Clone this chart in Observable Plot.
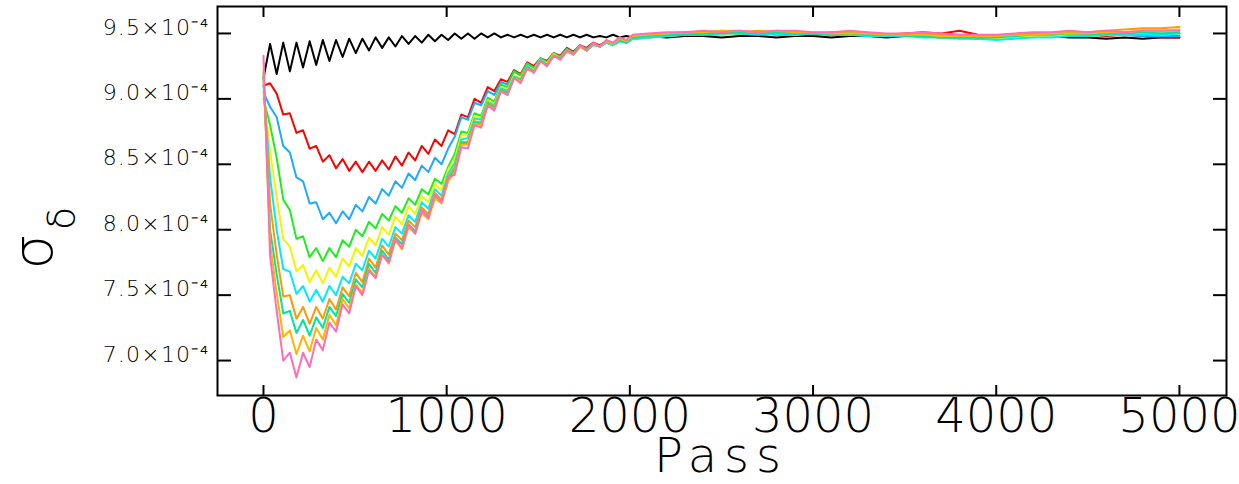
<!DOCTYPE html>
<html><head><meta charset="utf-8">
<script src="https://cdn.jsdelivr.net/npm/d3@7"></script>
<script src="https://cdn.jsdelivr.net/npm/@observablehq/plot@0.6"></script>
<style>body{margin:0;background:#fff}</style>
</head><body><div id="chart"></div>
<script>
// Values of sigma_delta in units of 1e-4
const passes = [0,36,72,108,144,180,216,252,288,324,360,396,432,468,504,540,576,612,648,684,720,756,792,828,864,900,936,972,1008,1044,1080,1116,1152,1188,1224,1260,1296,1332,1368,1404,1440,1476,1512,1548,1584,1620,1656,1692,1728,1764,1800,1836,1872,1908,1944,1980,2016,2100,2200,2300,2400,2500,2600,2700,2800,2900,3000,3100,3200,3300,3400,3500,3600,3700,3800,3900,4000,4100,4200,4300,4400,4500,4600,4700,4800,4900,5000];

const sBlack = [9.16,9.42,9.19,9.43,9.21,9.43,9.24,9.44,9.26,9.45,9.29,9.45,9.32,9.46,9.35,9.46,9.37,9.47,9.39,9.47,9.40,9.48,9.42,9.48,9.43,9.49,9.44,9.49,9.45,9.50,9.46,9.50,9.46,9.50,9.47,9.50,9.47,9.49,9.47,9.49,9.47,9.49,9.47,9.49,9.47,9.49,9.47,9.49,9.47,9.49,9.47,9.48,9.47,9.49,9.47,9.48,9.47,
  9.48,9.47,9.48,9.48,9.47,9.48,9.48,9.47,9.48,9.48,9.47,9.48,9.48,9.47,9.48,9.48,9.47,9.48,9.48,9.47,9.48,9.48,9.48,9.47,9.47,9.46,9.47,9.46,9.47,9.47];
const sRed = [9.10,9.12,9.04,8.88,8.89,8.74,8.76,8.62,8.64,8.52,8.57,8.47,8.54,8.45,8.52,8.44,8.52,8.45,8.53,8.46,8.56,8.49,8.59,8.53,8.64,8.58,8.69,8.64,8.76,8.73,8.88,8.86,9.00,8.97,9.09,9.06,9.15,9.13,9.22,9.19,9.28,9.25,9.31,9.29,9.35,9.33,9.39,9.36,9.41,9.39,9.43,9.41,9.44,9.42,9.45,9.43,9.46,
  9.47,9.48,9.49,9.49,9.50,9.50,9.49,9.50,9.50,9.49,9.50,9.49,9.49,9.49,9.50,9.51,9.50,9.52,9.49,9.48,9.49,9.49,9.48,9.49,9.49,9.48,9.49,9.48,9.47,9.47];
const sBlue = [9.05,8.94,8.86,8.64,8.59,8.40,8.37,8.20,8.21,8.08,8.13,8.05,8.14,8.08,8.19,8.14,8.25,8.20,8.31,8.26,8.37,8.32,8.43,8.38,8.49,8.44,8.55,8.50,8.62,8.71,8.86,8.84,8.97,8.95,9.06,9.03,9.13,9.11,9.21,9.18,9.27,9.24,9.30,9.28,9.34,9.32,9.38,9.35,9.40,9.38,9.42,9.40,9.43,9.41,9.44,9.43,9.46,
  9.47,9.48,9.49,9.49,9.49,9.50,9.50,9.49,9.49,9.50,9.49,9.49,9.48,9.48,9.49,9.48,9.48,9.47,9.46,9.46,9.47,9.48,9.48,9.49,9.49,9.49,9.49,9.48,9.48,9.48];
const sGreen = [9.00,8.80,8.55,8.23,8.15,7.93,7.95,7.79,7.86,7.76,7.86,7.79,7.92,7.87,8.00,7.95,8.06,8.01,8.12,8.07,8.18,8.13,8.24,8.19,8.31,8.27,8.39,8.35,8.48,8.58,8.75,8.74,8.89,8.87,9.01,8.98,9.11,9.09,9.21,9.18,9.27,9.23,9.31,9.28,9.35,9.32,9.38,9.35,9.41,9.38,9.42,9.40,9.44,9.42,9.45,9.43,9.46,
  9.48,9.49,9.49,9.50,9.50,9.51,9.50,9.51,9.50,9.50,9.51,9.50,9.49,9.49,9.49,9.48,9.48,9.48,9.47,9.47,9.48,9.48,9.49,9.49,9.50,9.49,9.50,9.50,9.50,9.50];
const sYellow = [9.05,8.60,8.25,7.93,7.87,7.68,7.73,7.60,7.69,7.59,7.71,7.64,7.78,7.72,7.86,7.80,7.94,7.88,8.02,7.96,8.10,8.04,8.18,8.12,8.26,8.21,8.35,8.30,8.46,8.54,8.72,8.72,8.87,8.85,8.99,8.96,9.09,9.07,9.18,9.16,9.25,9.22,9.30,9.27,9.34,9.31,9.37,9.34,9.40,9.37,9.42,9.40,9.43,9.41,9.44,9.43,9.46,
  9.47,9.48,9.49,9.50,9.49,9.50,9.51,9.50,9.49,9.50,9.50,9.49,9.49,9.48,9.49,9.48,9.47,9.48,9.47,9.46,9.47,9.48,9.48,9.49,9.48,9.49,9.49,9.50,9.49,9.50];
const sCyan = [9.10,8.40,8.00,7.70,7.68,7.51,7.57,7.45,7.54,7.45,7.57,7.50,7.64,7.59,7.74,7.69,7.84,7.78,7.93,7.87,8.02,7.97,8.11,8.06,8.21,8.16,8.31,8.26,8.43,8.51,8.69,8.70,8.85,8.84,8.98,8.95,9.08,9.06,9.17,9.15,9.25,9.21,9.30,9.26,9.33,9.31,9.37,9.34,9.40,9.37,9.41,9.40,9.43,9.41,9.44,9.43,9.46,
  9.47,9.48,9.49,9.49,9.50,9.50,9.49,9.50,9.49,9.50,9.49,9.49,9.48,9.48,9.48,9.47,9.47,9.46,9.46,9.45,9.46,9.47,9.47,9.48,9.48,9.49,9.49,9.49,9.49,9.50];
const sOrange = [9.15,8.20,7.81,7.49,7.50,7.32,7.41,7.28,7.41,7.32,7.47,7.39,7.56,7.49,7.67,7.60,7.78,7.71,7.88,7.81,7.97,7.92,8.07,8.02,8.17,8.12,8.28,8.23,8.40,8.48,8.67,8.67,8.83,8.82,8.97,8.94,9.07,9.05,9.16,9.14,9.24,9.21,9.29,9.26,9.33,9.31,9.37,9.34,9.40,9.37,9.42,9.40,9.44,9.42,9.46,9.44,9.48,
  9.49,9.50,9.51,9.51,9.52,9.51,9.52,9.51,9.51,9.50,9.50,9.51,9.50,9.49,9.50,9.49,9.49,9.49,9.48,9.48,9.49,9.50,9.50,9.51,9.51,9.52,9.53,9.54,9.54,9.55];
const sTeal = [9.20,8.00,7.66,7.36,7.38,7.21,7.31,7.19,7.33,7.25,7.41,7.34,7.51,7.44,7.62,7.56,7.74,7.67,7.84,7.77,7.94,7.89,8.04,7.99,8.15,8.10,8.26,8.21,8.38,8.46,8.66,8.66,8.82,8.81,8.96,8.93,9.07,9.04,9.16,9.14,9.24,9.21,9.29,9.26,9.33,9.31,9.37,9.34,9.40,9.37,9.42,9.40,9.44,9.42,9.45,9.43,9.47,
  9.48,9.49,9.49,9.50,9.50,9.51,9.50,9.51,9.50,9.50,9.49,9.50,9.49,9.49,9.48,9.48,9.47,9.47,9.47,9.47,9.48,9.49,9.49,9.50,9.49,9.50,9.50,9.51,9.50,9.51];
const sGold = [9.22,7.90,7.52,7.18,7.23,7.05,7.19,7.07,7.25,7.16,7.35,7.27,7.47,7.40,7.58,7.52,7.70,7.64,7.81,7.74,7.92,7.85,8.02,7.97,8.13,8.08,8.24,8.20,8.37,8.44,8.65,8.65,8.81,8.80,8.95,8.92,9.06,9.03,9.16,9.13,9.23,9.20,9.29,9.25,9.33,9.30,9.36,9.34,9.40,9.37,9.42,9.40,9.44,9.42,9.46,9.44,9.48,
  9.49,9.50,9.51,9.51,9.52,9.52,9.51,9.52,9.51,9.51,9.50,9.50,9.50,9.49,9.49,9.49,9.48,9.48,9.48,9.48,9.49,9.49,9.50,9.50,9.50,9.51,9.51,9.52,9.52,9.53];
const sPink = [9.33,7.80,7.38,7.00,7.06,6.87,7.06,6.95,7.16,7.08,7.29,7.22,7.43,7.36,7.57,7.50,7.69,7.63,7.81,7.75,7.93,7.86,8.04,7.97,8.15,8.09,8.27,8.21,8.40,8.42,8.63,8.62,8.80,8.78,8.95,8.91,9.06,9.03,9.16,9.12,9.24,9.20,9.29,9.25,9.33,9.30,9.37,9.34,9.41,9.37,9.43,9.40,9.45,9.43,9.47,9.45,9.49,
  9.50,9.51,9.51,9.52,9.51,9.52,9.51,9.52,9.52,9.51,9.51,9.52,9.51,9.50,9.50,9.51,9.50,9.49,9.49,9.49,9.50,9.51,9.51,9.52,9.51,9.52,9.51,9.52,9.52,9.52];

const seriesNames = ["run 1","run 2","run 3","run 4","run 5","run 6","run 7","run 8","run 9","run 10"];
const seriesValues = [sBlack,sRed,sBlue,sGreen,sYellow,sCyan,sOrange,sTeal,sGold,sPink];
const seriesColors = ["#000000","#ff0000","#1eaaff","#1eee1e","#f4f400","#00eaff","#ff9900","#00e69a","#ffb400","#ff6eb4"];

const yTicks = [7.0,7.5,8.0,8.5,9.0,9.5];
const yTickLabels = ["7.0×10⁻⁴","7.5×10⁻⁴","8.0×10⁻⁴","8.5×10⁻⁴","9.0×10⁻⁴","9.5×10⁻⁴"];
const xTicks = [0,1000,2000,3000,4000,5000];
const xTickLabels = ["0","1000","2000","3000","4000","5000"];

const rows = [];
seriesNames.forEach((name, si) => {
  seriesValues[si].forEach((v, i) => rows.push({series: name, pass: passes[i], value: v}));
});

const font = "DejaVu Sans, sans-serif";
const plot = Plot.plot({
  width: 1239, height: 484,
  marginLeft: 217, marginRight: 13, marginTop: 6, marginBottom: 89,
  style: {background: "white", fontFamily: font, color: "black"},
  x: {domain: [-251, 5257]},
  y: {domain: [6.733, 9.706]},
  color: {type: "ordinal", domain: seriesNames, range: seriesColors},
  marks: [
    Plot.line(rows, {x: "pass", y: "value", z: "series", stroke: "series", strokeWidth: 2}),
    Plot.frame({stroke: "black", strokeWidth: 2}),
    Plot.axisY(yTicks, {anchor: "left", tickSize: -14, strokeWidth: 2, stroke: "black", text: null, label: null}),
    Plot.axisY(yTicks, {anchor: "right", tickSize: -14, strokeWidth: 2, stroke: "black", text: null, label: null}),
    Plot.axisY(yTicks, {anchor: "left", tickSize: 0, tickPadding: 8, dy: -6, fontSize: 22, fontWeight: 200, fill: "black",
      tickFormat: d => yTickLabels[yTicks.indexOf(d)], label: null}),
    Plot.axisX(xTicks, {anchor: "bottom", tickSize: -10, strokeWidth: 2, stroke: "black", text: null, label: null}),
    Plot.axisX(xTicks, {anchor: "top", tickSize: -10, strokeWidth: 2, stroke: "black", text: null, label: null}),
    Plot.axisX(xTicks, {anchor: "bottom", tickSize: 0, tickPadding: 2, fontSize: 48, fontWeight: 200, fill: "black",
      tickFormat: d => xTickLabels[xTicks.indexOf(d)], label: null})
  ]
});

const svg = d3.select(plot);
svg.selectAll("g[aria-label='y-axis tick label'] text").attr("letter-spacing", 1.2);
svg.append("text")
  .attr("x", 721).attr("y", 472)
  .attr("text-anchor", "middle")
  .attr("font-family", font).attr("font-weight", 200)
  .attr("font-size", 48).attr("letter-spacing", 7)
  .attr("fill", "black")
  .text("Pass");
const yl = svg.append("text")
  .attr("transform", "translate(52,238) rotate(-90)")
  .attr("font-family", font).attr("font-weight", 200)
  .attr("fill", "black");
yl.append("tspan").attr("font-size", 56).text("σ");
yl.append("tspan").attr("font-size", 38).attr("dy", 22).attr("dx", 4).text("δ");

document.getElementById("chart").appendChild(plot);
</script>
</body></html>
